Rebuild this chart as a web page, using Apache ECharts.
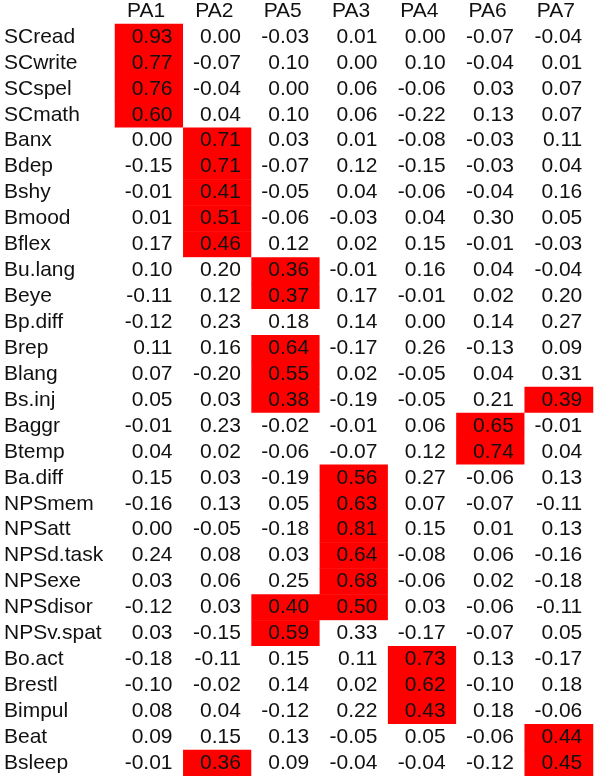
<!DOCTYPE html>
<html>
<head>
<meta charset="utf-8">
<script src="https://cdn.jsdelivr.net/npm/echarts@6/dist/echarts.min.js"></script>
<style>
html,body{margin:0;padding:0;background:#fff;}
#chart{width:603px;height:776px;}
</style>
</head>
<body>
<div id="chart"></div>
<script>
const factors = ['PA1','PA2','PA5','PA3','PA4','PA6','PA7'];
const variables = ['SCread','SCwrite','SCspel','SCmath','Banx','Bdep','Bshy','Bmood','Bflex',
  'Bu.lang','Beye','Bp.diff','Brep','Blang','Bs.inj','Baggr','Btemp','Ba.diff',
  'NPSmem','NPSatt','NPSd.task','NPSexe','NPSdisor','NPSv.spat','Bo.act','Brestl','Bimpul','Beat','Bsleep'];
const PA1 = [0.93,0.77,0.76,0.60,0.00,-0.15,-0.01,0.01,0.17,0.10,-0.11,-0.12,0.11,0.07,0.05,-0.01,0.04,0.15,-0.16,0.00,0.24,0.03,-0.12,0.03,-0.18,-0.10,0.08,0.09,-0.01];
const PA2 = [0.00,-0.07,-0.04,0.04,0.71,0.71,0.41,0.51,0.46,0.20,0.12,0.23,0.16,-0.20,0.03,0.23,0.02,0.03,0.13,-0.05,0.08,0.06,0.03,-0.15,-0.11,-0.02,0.04,0.15,0.36];
const PA5 = [-0.03,0.10,0.00,0.10,0.03,-0.07,-0.05,-0.06,0.12,0.36,0.37,0.18,0.64,0.55,0.38,-0.02,-0.06,-0.19,0.05,-0.18,0.03,0.25,0.40,0.59,0.15,0.14,-0.12,0.13,0.09];
const PA3 = [0.01,0.00,0.06,0.06,0.01,0.12,0.04,-0.03,0.02,-0.01,0.17,0.14,-0.17,0.02,-0.19,-0.01,-0.07,0.56,0.63,0.81,0.64,0.68,0.50,0.33,0.11,0.02,0.22,-0.05,-0.04];
const PA4 = [0.00,0.10,-0.06,-0.22,-0.08,-0.15,-0.06,0.04,0.15,0.16,-0.01,0.00,0.26,-0.05,-0.05,0.06,0.12,0.27,0.07,0.15,-0.08,-0.06,0.03,-0.17,0.73,0.62,0.43,0.05,-0.04];
const PA6 = [-0.07,-0.04,0.03,0.13,-0.03,-0.03,-0.04,0.30,-0.01,0.04,0.02,0.14,-0.13,0.04,0.21,0.65,0.74,-0.06,-0.07,0.01,0.06,0.02,-0.06,-0.07,0.13,-0.10,0.18,-0.06,-0.12];
const PA7 = [-0.04,0.01,0.07,0.07,0.11,0.04,0.16,0.05,-0.03,-0.04,0.20,0.27,0.09,0.31,0.39,-0.01,0.04,0.13,-0.11,0.13,-0.16,-0.18,-0.11,0.05,-0.17,0.18,-0.06,0.44,0.45];
const columns = [PA1,PA2,PA5,PA3,PA4,PA6,PA7];

const data = [];
columns.forEach((col, ci) => col.forEach((v, ri) => data.push([ci, ri, v])));

const FONT = '"Liberation Sans", Arial, sans-serif';
const chart = echarts.init(document.getElementById('chart'));
chart.setOption({
  animation: false,
  backgroundColor: '#ffffff',
  grid: {left: 115, right: 10, top: 24, bottom: 0},
  xAxis: {
    type: 'category', data: factors, position: 'top',
    axisLine: {show: false}, axisTick: {show: false}, splitLine: {show: false},
    axisLabel: {interval: 0, fontSize: 21, color: '#111', fontFamily: FONT, margin: 2, padding: [0, 6, 0, 0]}
  },
  yAxis: {
    type: 'category', data: variables, inverse: true,
    axisLine: {show: false}, axisTick: {show: false}, splitLine: {show: false},
    axisLabel: {interval: 0, fontSize: 21, color: '#111', fontFamily: FONT, align: 'left', margin: 111}
  },
  visualMap: {
    type: 'piecewise', show: false, dimension: 2,
    pieces: [{min: 0.35, color: '#ff0000'}, {max: 0.35, color: '#ffffff'}]
  },
  series: [{
    type: 'heatmap', data: data,
    label: {
      show: true, position: 'insideRight', distance: 11,
      fontSize: 21, color: '#111', fontFamily: FONT,
      formatter: p => p.value[2].toFixed(2)
    },
    itemStyle: {borderWidth: 0},
    emphasis: {disabled: true}
  }]
});
</script>
</body>
</html>
